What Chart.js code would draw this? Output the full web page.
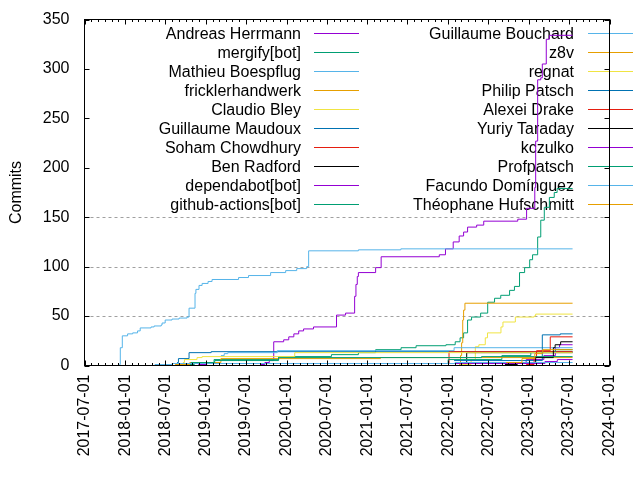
<!DOCTYPE html>
<html><head><meta charset="utf-8">
<script src="https://cdn.jsdelivr.net/npm/chart.js@4.4.0/dist/chart.umd.min.js"></script>
<style>html,body{margin:0;padding:0;background:#fff}#wrap{width:640px;height:480px}</style>
</head><body><div id="wrap"><canvas id="c" width="640" height="480"></canvas></div>
<script>
// ---------- data ----------
const xTickLabels = ["2017-07-01","2018-01-01","2018-07-01","2019-01-01","2019-07-01","2020-01-01","2020-07-01","2021-01-01","2021-07-01","2022-01-01","2022-07-01","2023-01-01","2023-07-01","2024-01-01"];
const yTickValues = [0,50,100,150,200,250,300,350];
const gridValues = [50,100,150];
const yTitle = "Commits";
const authors = ["Andreas Herrmann","mergify[bot]","Mathieu Boespflug","fricklerhandwerk","Claudio Bley","Guillaume Maudoux","Soham Chowdhury","Ben Radford","dependabot[bot]","github-actions[bot]","Guillaume Bouchard","z8v","regnat","Philip Patsch","Alexei Drake","Yuriy Taraday","kczulko","Profpatsch","Facundo Domínguez","Théophane Hufschmitt"];
const palette = ["#9400d3","#009e73","#56b4e9","#e69f00","#f0e442","#0072b2","#e51e10","#000000"];

const andreasHerrmann = [["2019-09-05",1],["2019-09-25",3],["2019-10-15",5],["2019-11-04",24],["2019-12-19",26],["2020-01-11",29],["2020-02-03",32],["2020-02-25",35],["2020-03-18",37],["2020-05-02",39],["2020-08-14",51],["2020-09-24",53],["2020-11-04",70],["2020-11-10",82],["2020-11-16",90],["2020-11-21",94],["2021-02-07",99],["2021-03-04",110],["2021-11-22",112],["2021-12-20",118],["2022-01-24",125],["2022-02-20",131],["2022-03-12",135],["2022-03-30",140],["2022-05-10",142],["2022-06-11",146],["2022-11-12",148],["2022-12-22",159],["2023-01-28",180],["2023-02-01",227],["2023-02-10",289],["2023-02-24",291],["2023-03-03",305],["2023-03-21",330],["2023-04-04",334],["2023-07-18",334]];
const mergifyBot = [["2018-10-17",1],["2018-11-10",3],["2019-02-07",6],["2019-11-26",9],["2020-07-22",11],["2020-11-21",13],["2021-02-07",16],["2021-06-02",18],["2021-08-09",20],["2021-12-22",21],["2022-02-02",24],["2022-02-24",28],["2022-03-12",33],["2022-03-30",46],["2022-04-17",49],["2022-05-28",53],["2022-06-29",64],["2022-07-30",68],["2022-08-27",71],["2022-10-06",76],["2022-10-28",80],["2022-11-20",94],["2022-12-13",99],["2023-01-05",107],["2023-01-18",112],["2023-02-10",130],["2023-02-24",147],["2023-03-12",160],["2023-04-04",170],["2023-04-26",175],["2023-05-09",179],["2023-07-18",179]];
const mathieuBoespflug = [["2017-12-06",1],["2017-12-10",18],["2017-12-19",30],["2018-01-12",32],["2018-02-04",33],["2018-02-26",35],["2018-03-10",38],["2018-04-28",39],["2018-05-12",40],["2018-06-13",41],["2018-06-17",43],["2018-07-01",46],["2018-08-01",47],["2018-09-02",48],["2018-10-08",49],["2018-10-17",58],["2018-11-13",73],["2018-11-17",77],["2018-12-01",81],["2018-12-15",83],["2019-01-11",85],["2019-01-29",87],["2019-05-29",89],["2019-07-13",91],["2019-10-21",94],["2019-12-28",96],["2020-02-16",98],["2020-04-01",100],["2020-04-10",116],["2020-11-21",117],["2021-06-01",118],["2023-07-18",118]];
const fricklerhandwerk = [["2022-02-20",1],["2022-02-26",10],["2022-03-03",23],["2022-03-08",46],["2022-03-12",56],["2022-03-18",63],["2023-07-18",63]];
const claudioBley = [["2022-03-01",1],["2022-04-15",6],["2022-05-04",19],["2022-05-20",21],["2022-06-18",28],["2022-06-28",33],["2022-08-28",39],["2022-09-06",44],["2022-11-01",49],["2023-01-25",50],["2023-02-01",52],["2023-07-18",52]];
const guillaumeMaudoux = [["2018-08-24",3],["2018-08-30",7],["2018-10-17",13],["2019-01-25",14],["2023-07-18",14]];
const sohamChowdhury = [["2021-12-28",2],["2022-01-05",14],["2023-07-18",14]];
const benRadford = [["2022-03-20",2],["2022-03-26",13],["2023-07-18",13]];
const dependabotBot = [["2022-06-28",2],["2022-12-20",6],["2023-03-10",10],["2023-05-01",18],["2023-05-20",21],["2023-07-18",21]];
const githubActionsBot = [["2021-01-15",2],["2022-01-01",6],["2022-09-01",10],["2023-01-10",13],["2023-05-01",16],["2023-07-18",16]];
const guillaumeBouchard = [["2019-03-10",10],["2019-03-25",12],["2019-04-10",13],["2019-11-20",15],["2022-01-28",18],["2023-07-18",18]];
const z8v = [["2018-08-15",1],["2018-10-20",3],["2019-03-10",7],["2021-03-01",8],["2023-07-18",8]];
const regnat = [["2018-09-19",3],["2018-09-26",6],["2018-11-22",8],["2018-12-15",9],["2020-02-07",13],["2023-07-18",13]];
const philipPatsch = [["2022-01-28",5],["2023-03-03",31],["2023-05-23",32],["2023-07-18",32]];
const alexeiDrake = [["2022-12-20",1],["2023-01-25",8],["2023-02-05",15],["2023-04-08",29],["2023-07-18",29]];
const yuriyTaraday = [["2022-09-15",1],["2022-11-10",3],["2023-02-01",8],["2023-04-22",18],["2023-04-30",21],["2023-05-25",24],["2023-07-18",24]];
const kczulko = [["2018-11-28",1],["2019-01-05",2],["2023-03-15",4],["2023-05-10",6],["2023-07-18",6]];
const profpatsch = [["2018-10-25",3],["2019-02-10",5],["2019-11-26",8],["2022-06-01",9],["2023-07-18",9]];
const facundoDominguez = [["2018-05-15",1],["2018-08-01",2],["2022-02-01",3],["2023-07-18",3]];
const theophaneHufschmitt = [["2022-09-20",3],["2022-12-01",7],["2023-01-28",12],["2023-03-05",16],["2023-07-18",16]];

const series = [andreasHerrmann,mergifyBot,mathieuBoespflug,fricklerhandwerk,claudioBley,guillaumeMaudoux,sohamChowdhury,benRadford,dependabotBot,githubActionsBot,guillaumeBouchard,z8v,regnat,philipPatsch,alexeiDrake,yuriyTaraday,kczulko,profpatsch,facundoDominguez,theophaneHufschmitt];

// ---------- chart ----------
const FONT = "'Liberation Sans', Arial, sans-serif";
Chart.defaults.font.family = FONT;
Chart.defaults.font.size = 16;
Chart.defaults.color = '#000';

const xTickValues = xTickLabels.map(d => Date.parse(d));
const xMin = xTickValues[0], xMax = xTickValues[xTickValues.length - 1];

const datasets = series.map((s, i) => ({
  label: authors[i],
  data: s.map(([d, v]) => ({x: Date.parse(d), y: v})),
  borderColor: palette[i % palette.length],
  backgroundColor: palette[i % palette.length],
  borderWidth: 1,
  pointRadius: 0,
  fill: false,
  stepped: true,
  order: -i
}));

const decor = {
  id: 'decor',
  beforeDatasetsDraw(chart) {
    const {ctx, chartArea: a, scales: {x, y}} = chart;
    ctx.save();
    ctx.strokeStyle = '#a0a0a0';
    ctx.lineWidth = 1;
    ctx.setLineDash([3, 3]);
    gridValues.forEach(v => {
      const py = Math.round(y.getPixelForValue(v)) + 0.5;
      ctx.beginPath(); ctx.moveTo(a.left, py); ctx.lineTo(a.right, py); ctx.stroke();
    });
    ctx.setLineDash([]);
    ctx.font = '16px ' + FONT;
    ctx.textAlign = 'right';
    ctx.textBaseline = 'middle';
    const rows = Math.ceil(chart.data.datasets.length / 2);
    chart.data.datasets.forEach((ds, i) => {
      const col = Math.floor(i / rows), row = i % rows;
      const ty = 33.5 + row * 19;
      const textRight = col === 0 ? 301 : 574;
      const lx0 = col === 0 ? 314 : 588;
      ctx.fillStyle = '#000';
      ctx.fillText(ds.label, textRight, ty + 1);
      ctx.strokeStyle = ds.borderColor;
      ctx.beginPath(); ctx.moveTo(lx0, ty); ctx.lineTo(lx0 + 45, ty); ctx.stroke();
    });
    ctx.restore();
  },
  afterDatasetsDraw(chart) {
    const {ctx, chartArea: a, scales: {x, y}} = chart;
    ctx.save();
    ctx.strokeStyle = '#000';
    ctx.lineWidth = 1;
    ctx.strokeRect(a.left, a.top, a.right - a.left, a.bottom - a.top);
    ctx.beginPath();
    const start = new Date(xMin);
    for (let k = 0; ; k++) {
      const t = Date.UTC(start.getUTCFullYear(), start.getUTCMonth() + k, 1);
      if (t > xMax) break;
      const m = new Date(t).getUTCMonth();
      const len = (m % 6 === 0) ? 5 : 2.5;
      const px = Math.round(x.getPixelForValue(t)) + 0.5;
      ctx.moveTo(px, a.bottom); ctx.lineTo(px, a.bottom - len);
      ctx.moveTo(px, a.top); ctx.lineTo(px, a.top + len);
    }
    yTickValues.forEach(v => {
      const py = Math.round(y.getPixelForValue(v)) + 0.5;
      ctx.moveTo(a.left, py); ctx.lineTo(a.left + 5, py);
      ctx.moveTo(a.right, py); ctx.lineTo(a.right - 5, py);
    });
    ctx.stroke();
    ctx.restore();
  }
};

new Chart(document.getElementById('c'), {
  type: 'line',
  data: {datasets},
  plugins: [decor],
  options: {
    responsive: false,
    animation: false,
    devicePixelRatio: 1,
    layout: {padding: {left: 0, top: 19.5, right: 30.5, bottom: 0}},
    plugins: {legend: {display: false}, tooltip: {enabled: false}},
    scales: {
      x: {
        type: 'linear', min: xMin, max: xMax,
        grid: {display: false, drawTicks: false},
        border: {display: false},
        afterBuildTicks: s => { s.ticks = xTickValues.map(v => ({value: v})); },
        afterFit: s => { s.height = 114.5; },
        ticks: {autoSkip: false, minRotation: 90, maxRotation: 90, padding: 9, color: '#000',
          callback: (v, i) => xTickLabels[i]}
      },
      y: {
        min: 0, max: 350,
        grid: {display: true, drawOnChartArea: false, drawTicks: true, tickLength: 15, tickColor: 'rgba(0,0,0,0)', color: 'rgba(0,0,0,0)'},
        border: {display: false},
        afterBuildTicks: s => { s.ticks = yTickValues.map(v => ({value: v})); },
        afterFit: s => { s.width = 84.5; },
        ticks: {padding: 0, color: '#000', callback: v => String(v)},
        title: {display: true, text: yTitle, color: '#000', padding: {top: 7, bottom: 0}}
      }
    }
  }
});
</script>
</body></html>
